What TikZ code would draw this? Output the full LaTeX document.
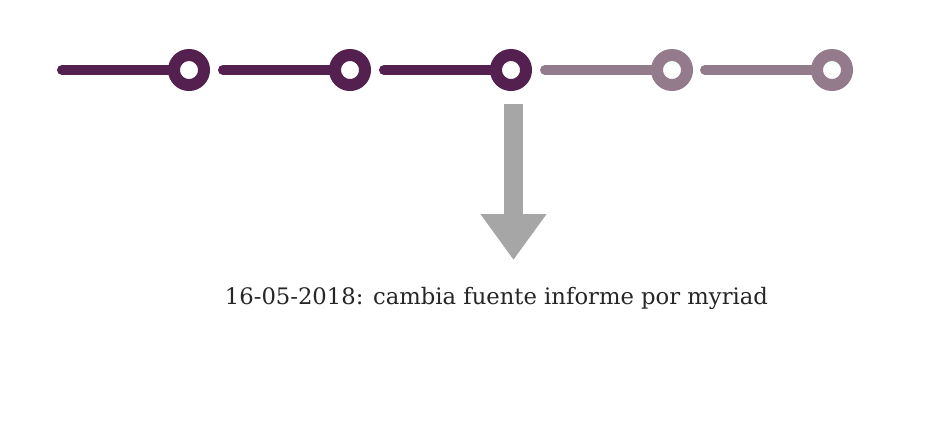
\documentclass[tikz,border=0pt]{standalone}
\usepackage{fontspec}
\setmainfont{DejaVu Serif}
\usetikzlibrary{arrows.meta, positioning}
\definecolor{mydone}{HTML}{54204F}
\definecolor{mytodo}{HTML}{937B8C}
\definecolor{myarrow}{HTML}{A6A6A6}
\tikzset{
	doneline/.style={
			draw=mydone,
			line width=10pt,
			line cap=round
		},
	todoline/.style={
			doneline,
			draw=mytodo
		},
	donestop/.style={
			circle,
			draw=mydone,
			line width=12pt,
			fill=white,
			minimum size=30pt,
			inner sep=0pt
		},
	todostop/.style={
			donestop,
			draw=mytodo
		},
	bigarrow/.style={
			draw=myarrow,
			line width=19pt,
			-{Triangle[width=63pt, length=46pt, fill=myarrow]}
		},
	notetext/.style={
			font=\fontsize{22.7pt}{26pt}\selectfont,
			text=black!85
		}
}

\begin{document}
\begin{tikzpicture}[x=1pt, y=-1pt]
\useasboundingbox (0,0) rectangle (940,440);

\coordinate (a1) at (62,70);
\coordinate (a2) at (223,70);
\coordinate (a3) at (384,70);
\coordinate (a4) at (545,70);
\coordinate (a5) at (705,70);

\draw[doneline] (a1) -- (189,70) coordinate (c1);
\draw[doneline] (a2) -- (350,70) coordinate (c2);
\draw[doneline] (a3) -- (511,70) coordinate (c3);
\draw[todoline] (a4) -- (672,70) coordinate (c4);
\draw[todoline] (a5) -- (832,70) coordinate (c5);

\node[donestop] (s1) at (c1) {};
\node[donestop] (s2) at (c2) {};
\node[donestop] (s3) at (c3) {};
\node[todostop] (s4) at (c4) {};
\node[todostop] (s5) at (c5) {};

\coordinate (arrtop) at (513.5,104);
\coordinate (arrtip) at (513.5,260);
\draw[bigarrow] (arrtop) -- (arrtip);

\node[notetext] (note) at (496.5,298) {16-05-2018: cambia fuente informe por myriad};

\end{tikzpicture}
\end{document}
